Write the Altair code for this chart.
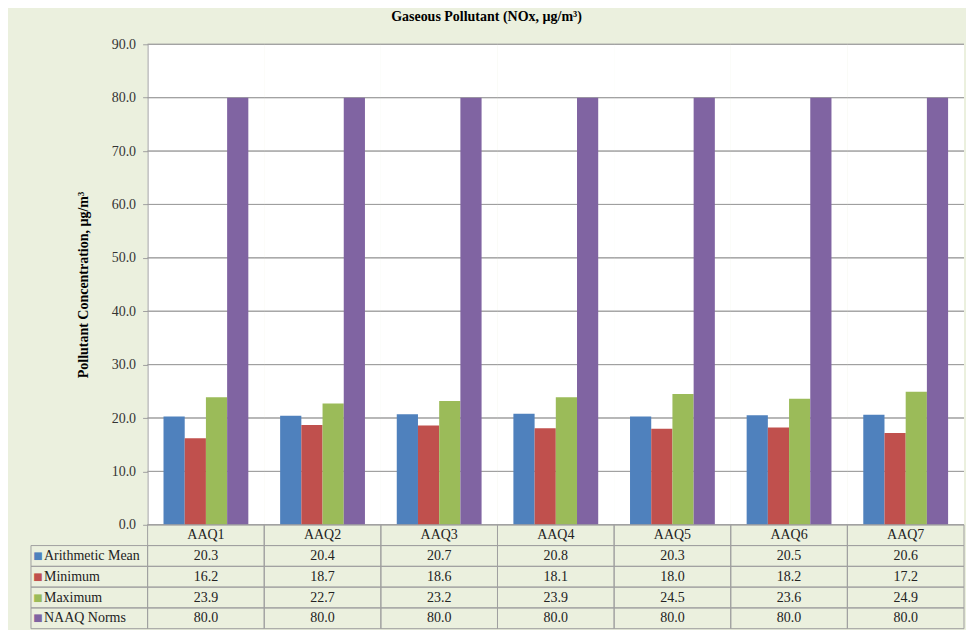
import altair as alt
import pandas as pd

SITES = ["AAQ1", "AAQ2", "AAQ3", "AAQ4", "AAQ5", "AAQ6", "AAQ7"]
SERIES = ["Arithmetic Mean", "Minimum", "Maximum", "NAAQ Norms"]
MEAN = [20.3, 20.4, 20.7, 20.8, 20.3, 20.5, 20.6]
MINIMUM = [16.2, 18.7, 18.6, 18.1, 18.0, 18.2, 17.2]
MAXIMUM = [23.9, 22.7, 23.2, 23.9, 24.5, 23.6, 24.9]
NORMS = [80.0, 80.0, 80.0, 80.0, 80.0, 80.0, 80.0]
COLORS = ["#4F81BD", "#C0504D", "#9BBB59", "#8064A2"]
Y_TICKS = [0, 10, 20, 30, 40, 50, 60, 70, 80, 90]

TITLE = "Gaseous Pollutant (NOx, µg/m³)"
Y_TITLE = "Pollutant Concentration, µg/m³"

LEG = "Series"
HDR = "Site"
COLS = [LEG] + SITES
ROWS = [HDR] + SERIES

FONT = "Liberation Serif"
BG = "#EBF0DE"
LINE = "#A0A0A0"

values = dict(zip(SERIES, [MEAN, MINIMUM, MAXIMUM, NORMS]))
bars_df = pd.DataFrame(
    [{"site": s, "series": k, "value": v} for k in SERIES for s, v in zip(SITES, values[k])]
)
bg_df = pd.DataFrame({"site": SITES, "value": [0] * 7, "value2": [90] * 7})
grid_df = pd.DataFrame([{"site": s, "value": t} for s in SITES for t in Y_TICKS])

W = 934
H = 481
TABLE_H = 104

xscale = alt.Scale(domain=COLS, paddingInner=0, paddingOuter=0)
yscale = alt.Scale(domain=[0, 90], nice=False, zero=True)
yaxis = alt.Axis(
    values=Y_TICKS, format=".1f", grid=False, offset=-W / 8, zindex=1,
    domainColor=LINE, tickColor=LINE, tickSize=5, labelPadding=7,
    labelFont=FONT, labelFontSize=14, labelColor="#333333",
    titleFont=FONT, titleFontSize=14, titleFontWeight="bold", titleColor="#000000",
    titlePadding=21,
)
X = alt.X("site:N", scale=xscale, axis=None)
Y = alt.Y("value:Q", scale=yscale, axis=yaxis, title=Y_TITLE)

bg = alt.Chart(bg_df).mark_rect(fill="white").encode(x=X, y=Y, y2="value2:Q")
grid = alt.Chart(grid_df).mark_rect(fillOpacity=0, stroke=LINE, strokeWidth=1).encode(
    x=X, y=Y, y2="value:Q"
)
bars = alt.Chart(bars_df).mark_bar().encode(
    x=X,
    xOffset=alt.XOffset("series:N", scale=alt.Scale(domain=SERIES, paddingOuter=0.75, paddingInner=0)),
    y=Y,
    color=alt.Color("series:N", scale=alt.Scale(domain=SERIES, range=COLORS), legend=None),
)
top = alt.layer(bg, grid, bars).properties(width=W, height=H)

# table
hdr_df = pd.DataFrame({"col": SITES, "row": [HDR] * 7, "text": SITES})
val_df = pd.DataFrame(
    [{"col": s, "row": k, "text": f"{v:.1f}"} for k in SERIES for s, v in zip(SITES, values[k])]
)
leg_df = pd.DataFrame({"col": [LEG] * 4, "row": SERIES, "text": SERIES, "series": SERIES})
cells_df = pd.concat([hdr_df, val_df, leg_df[["col", "row", "text"]]], ignore_index=True)

tx = alt.X("col:N", scale=xscale, axis=None)
ty = alt.Y("row:N", scale=alt.Scale(domain=ROWS, paddingInner=0, paddingOuter=0), axis=None)

borders = alt.Chart(cells_df).mark_rect(fillOpacity=0, stroke=LINE, strokeWidth=1).encode(x=tx, y=ty)
texts = alt.Chart(pd.concat([hdr_df, val_df], ignore_index=True)).mark_text(
    font=FONT, fontSize=14, color="#222222"
).encode(x=tx, y=ty, text="text:N")
leg_text = alt.Chart(leg_df).mark_text(
    font=FONT, fontSize=14, color="#222222", align="left", dx=13
).encode(x=alt.X("col:N", scale=xscale, axis=None, bandPosition=0), y=ty, text="text:N")
leg_sq = alt.Chart(leg_df).mark_text(
    text="■", font="DejaVu Sans", fontSize=10, align="center", dx=7
).encode(
    x=alt.X("col:N", scale=xscale, axis=None, bandPosition=0),
    y=ty,
    color=alt.Color("series:N", scale=alt.Scale(domain=SERIES, range=COLORS), legend=None),
)
table = alt.layer(borders, texts, leg_text, leg_sq).properties(width=W, height=TABLE_H)

chart = alt.vconcat(top, table, spacing=0, bounds="flush").properties(
    title=alt.TitleParams(
        TITLE, font=FONT, fontSize=14, fontWeight="bold", color="#000000",
        anchor="middle", offset=13, dx=-11,
    ),
    background=BG,
    padding={"left": 22, "top": 2, "right": 1, "bottom": 0},
).configure_view(stroke=None)

chart.save("out.html", embed_options={"renderer": "svg", "actions": False})
